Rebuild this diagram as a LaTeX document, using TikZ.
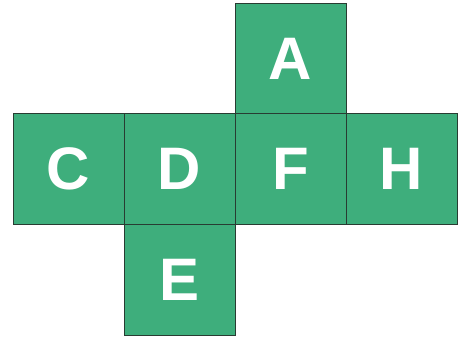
\documentclass[tikz,border=0pt]{standalone}
\usepackage{fontspec}
\setmainfont{Liberation Sans}
\definecolor{netgreen}{RGB}{62,174,124}
\definecolor{netedge}{RGB}{40,60,50}
\begin{document}
\begin{tikzpicture}[x=1pt,y=-1pt,
  face/.style={draw=netedge,line width=1pt,fill=netgreen,minimum size=111pt,inner sep=0pt,
    text=white,font=\fontsize{60}{60}\selectfont\bfseries}]
\useasboundingbox (0,0) rectangle (459,340);
\node[face] (A) at (290.5,59) {A};
\node[face] (C) at (68.5,169) {C};
\node[face] (D) at (179.5,169) {D};
\node[face] (F) at (290.5,169) {F};
\node[face] (H) at (401.5,169) {H};
\node[face] (E) at (179.5,279.5) {E};
\end{tikzpicture}
\end{document}
